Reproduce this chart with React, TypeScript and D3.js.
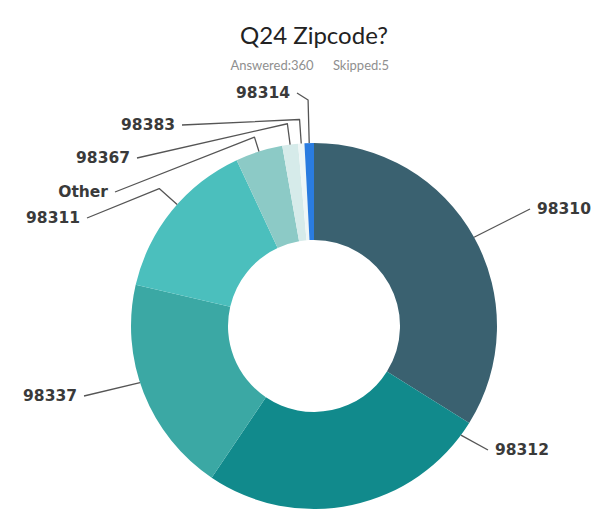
import React from 'react';
import * as d3 from 'd3';

// responses per zipcode (360 answered)
const zipcodes = ['98310', '98312', '98337', '98311', 'Other', '98367', '98383', '98314'];
const counts = [122, 92, 69, 52, 15, 5, 2, 3];
const colors = ['#3a6170', '#118a8c', '#3ba8a4', '#4bbfbd', '#8ccac6', '#d6ebea', '#eef6f6', '#2a7ce0'];

const title = 'Q24 Zipcode?';
const answered = 360;
const skipped = 5;

// where each outside label sits (annotation layout, not data)
const labelLayout = [
  { x: 537, y: 214, anchor: 'start', frac: 0.5, elbow: 0 },
  { x: 495, y: 455, anchor: 'start', frac: 0.05, elbow: 0 },
  { x: 77, y: 401, anchor: 'end', frac: 0.55, elbow: 0 },
  { x: 80, y: 223, anchor: 'end', frac: 0.55, elbow: 24 },
  { x: 108, y: 197, anchor: 'end', frac: 0.5, elbow: 15 },
  { x: 130, y: 163, anchor: 'end', frac: 0.5, elbow: 21 },
  { x: 175, y: 130, anchor: 'end', frac: 0.5, elbow: 24 },
  { x: 290, y: 98, anchor: 'end', frac: 0.5, elbow: 43 },
];

export default function App() {
  const width = 596;
  const height = 512;
  const cx = 314;
  const cy = 326;
  const outerR = 183;
  const innerR = 86;

  const rows = zipcodes.map((z, i) => ({ zip: z, n: counts[i], color: colors[i] }));
  const pie = d3.pie<any>().sort(null).value((d) => d.n);
  const arcs = pie(rows);
  const arc = d3.arc<any>().innerRadius(innerR).outerRadius(outerR);
  const line = d3.line();

  return (
    <svg width={width} height={height} style={{ position: 'absolute', left: 0, top: 0, background: '#fff' }}>
      <text x={cx} y={44} textAnchor="middle" fontFamily="Lato, 'Open Sans', sans-serif" fontSize={24} fill="#222">
        {title}
      </text>
      <text y={70} textAnchor="middle" fontFamily="Lato, 'Open Sans', sans-serif" fontSize={13} fill="#8f8f8f">
        <tspan x={cx - 42}>{`Answered:${answered}`}</tspan>
        <tspan x={cx + 47}>{`Skipped:${skipped}`}</tspan>
      </text>
      <g transform={`translate(${cx},${cy})`}>
        {arcs.map((a, i) => (
          <path key={i} d={arc(a) || ''} fill={a.data.color} />
        ))}
      </g>
      {arcs.map((a, i) => {
        const l = labelLayout[i];
        const ang = a.startAngle + l.frac * (a.endAngle - a.startAngle);
        const p0 = d3.pointRadial(ang, outerR);
        const tip: [number, number] = [cx + p0[0], cy + p0[1]];
        const sx = l.anchor === 'end' ? l.x + 7 : l.x - 7;
        const start: [number, number] = [sx, l.y - 5];
        const pts: [number, number][] = [start];
        if (l.elbow) {
          const pe = d3.pointRadial(ang, outerR + l.elbow);
          pts.push([cx + pe[0], cy + pe[1]]);
        }
        pts.push(tip);
        return (
          <g key={i}>
            <path d={line(pts) || ''} fill="none" stroke="#555" strokeWidth={1.3} strokeLinejoin="round" />
            <text
              x={l.x}
              y={l.y}
              textAnchor={l.anchor as any}
              fontFamily="'DejaVu Sans', sans-serif"
              fontWeight="bold"
              fontSize={15.5}
              fill="#3a3a3a"
            >
              {a.data.zip}
            </text>
          </g>
        );
      })}
    </svg>
  );
}
